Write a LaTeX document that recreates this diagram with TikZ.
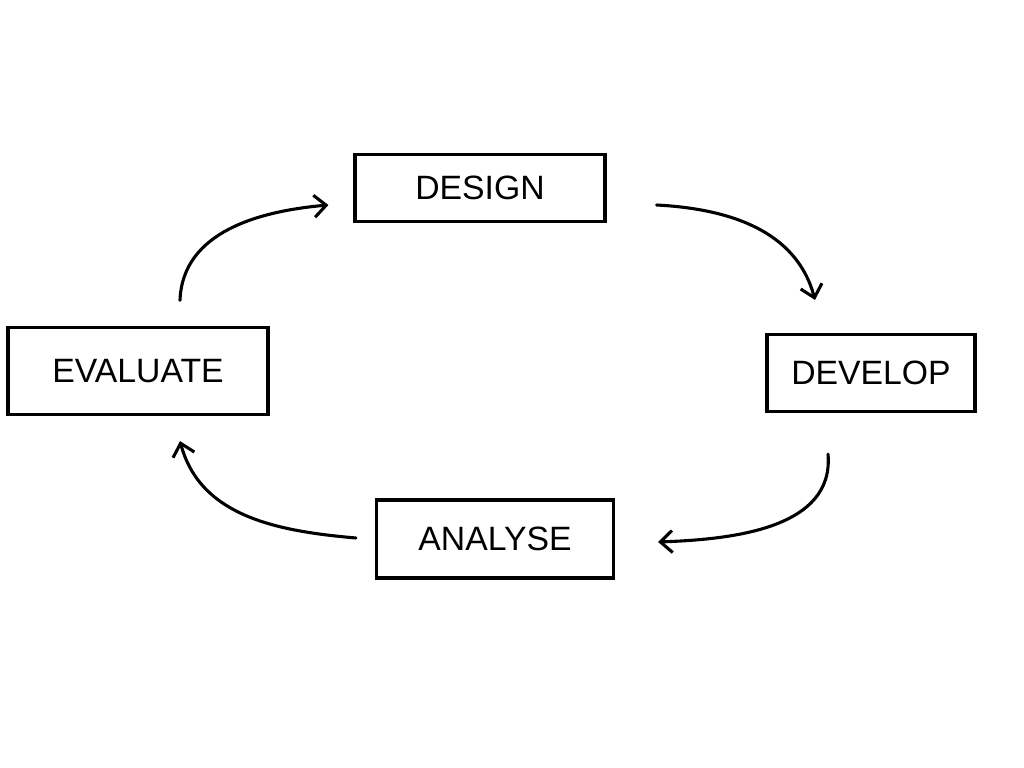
\documentclass[tikz,border=0pt]{standalone}
\usepackage{fontspec}
\setmainfont{Liberation Sans}
\usetikzlibrary{arrows.meta}

\begin{document}
\begin{tikzpicture}[
    stage/.style={draw, rectangle, line width=2.2pt, font=\fontsize{24}{28}\selectfont},
    flow/.style={-{Straight Barb[length=3mm, width=5.5mm, line width=2.2pt]}, line width=2.2pt, line cap=round}
  ]
  \useasboundingbox[fill=white] (0,0) rectangle (25.6,-19.2);

  \node[stage, minimum width=6.25cm, minimum height=1.675cm] (design) at (12.0, -4.7) {DESIGN};
  \node[stage, minimum width=5.2cm, minimum height=1.925cm] (develop) at (21.775, -9.325) {DEVELOP};
  \node[stage, minimum width=5.925cm, minimum height=1.95cm] (analyse) at (12.375, -13.475) {ANALYSE};
  \node[stage, minimum width=6.5cm, minimum height=2.175cm] (evaluate) at (3.45, -9.275) {EVALUATE};

  \draw[flow] ([xshift=1.05cm, yshift=0.64cm]evaluate.north) to[out=88, in=185] ([xshift=-0.625cm, yshift=-0.425cm]design.west);
  \draw[flow] ([xshift=1.25cm, yshift=-0.425cm]design.east) to[out=-3, in=105] ([xshift=-1.4cm, yshift=0.825cm]develop.north);
  \draw[flow] ([xshift=-1.075cm, yshift=-1.025cm]develop.south) to[out=-85, in=2] ([xshift=1.075cm, yshift=-0.075cm]analyse.east);
  \draw[flow] ([xshift=-0.475cm, yshift=0.025cm]analyse.west) to[out=175, in=-75] ([xshift=1.05cm, yshift=-0.625cm]evaluate.south);
\end{tikzpicture}
\end{document}
